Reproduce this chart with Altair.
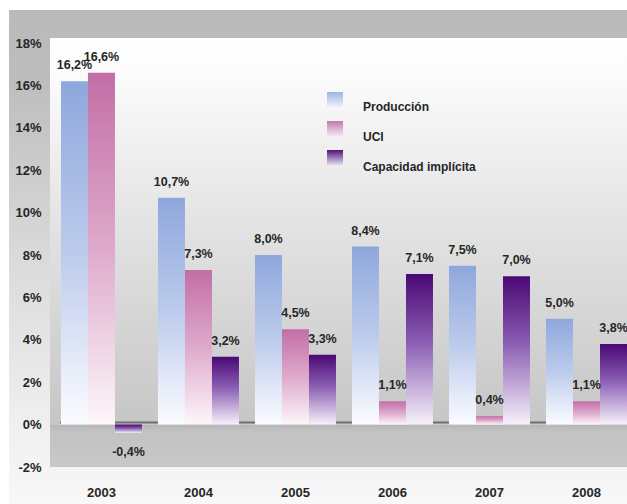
import altair as alt
import pandas as pd

years = ["2003", "2004", "2005", "2006", "2007", "2008"]
series = ["Producción", "UCI", "Capacidad implícita"]
produccion = [16.2, 10.7, 8.0, 8.4, 7.5, 5.0]
uci = [16.6, 7.3, 4.5, 1.1, 0.4, 1.1]
capacidad = [-0.4, 3.2, 3.3, 7.1, 7.0, 3.8]
y_ticks = [-2, 0, 2, 4, 6, 8, 10, 12, 14, 16, 18]

rows = []
for name, vals in zip(series, [produccion, uci, capacidad]):
    for yr, v in zip(years, vals):
        rows.append({"year": yr, "series": name, "value": v,
                     "label": f"{v:.1f}".replace(".", ",") + "%"})
df = pd.DataFrame(rows)
one = pd.DataFrame({"k": [0]})

W, H = 577, 429
FONT = "Liberation Sans"
TXT = "#262626"


def grad(stops):
    return alt.Gradient(
        gradient="linear",
        stops=[alt.GradientStop(color=c, offset=o) for o, c in stops],
        x1=0, x2=0, y1=0, y2=1,
    )


bar_grads = {
    "Producción": grad([(0, "#8ea7dc"), (0.5, "#bccbec"), (1, "#fbfcff")]),
    "UCI": grad([(0, "#c36ea6"), (0.5, "#deaacb"), (1, "#fdf6fa")]),
    "Capacidad implícita": grad([(0, "#4a0874"), (0.45, "#8a5db3"), (1, "#f6f1fa")]),
}

yscale = alt.Scale(domain=[-2, 18.24], nice=False, zero=False)
yaxis = alt.Axis(values=y_ticks, labelExpr="datum.value + '%'", title=None,
                 domain=False, ticks=False, grid=False, labelPadding=9,
                 labelFont=FONT, labelFontSize=13, labelFontWeight="bold",
                 labelColor=TXT, zindex=1)
xscale = alt.Scale(paddingInner=0.165, paddingOuter=0.0565, align=1)
xaxis = alt.Axis(title=None, domain=False, ticks=False, labelAngle=0,
                 labelPadding=19, labelFont=FONT, labelFontSize=13,
                 labelFontWeight="bold", labelColor=TXT, zindex=1)
xenc = alt.X("year:N", sort=years, scale=xscale, axis=xaxis)
xoff = alt.XOffset("series:N", sort=series,
                   scale=alt.Scale(domain=series, paddingInner=0, paddingOuter=0))

# Decoration: outer frame, back wall, floor, zero edge
frame = alt.Chart(one).mark_rect(
    color=grad([(0, "#bababa"), (0.14, "#bdbdbd"), (0.5, "#dadada"),
                (0.85, "#f0f0f0"), (1, "#f8f8f8")])
).encode(x=alt.value(-41), x2=alt.value(W), y=alt.value(-28), y2=alt.value(H + 37))

wall = alt.Chart(one).mark_rect(
    color=grad([(0, "#ffffff"), (0.1, "#fbfbfb"), (0.5, "#e2e2e2"), (1, "#c6c6c6")])
).encode(x=alt.value(0), x2=alt.value(W),
         y=alt.Y(datum=18.24, scale=yscale, axis=yaxis), y2=alt.Y2(datum=0))

floor = alt.Chart(one).mark_rect(
    color=grad([(0, "#b6b6b6"), (0.15, "#c2c2c2"), (1, "#c8c8c8")])
).encode(x=alt.value(0), x2=alt.value(W),
         y=alt.Y(datum=0, scale=yscale, axis=yaxis), y2=alt.Y2(datum=-2))

zero_line = alt.Chart(one).mark_rule(color="#6e6e6e", strokeWidth=2, yOffset=-2).encode(
    x=alt.value(10), x2=alt.value(W),
    y=alt.Y(datum=0, scale=yscale, axis=yaxis))

layers = [frame, wall, floor, zero_line]

for name in series:
    layers.append(
        alt.Chart(df).transform_filter(alt.datum.series == name)
        .mark_bar(color=bar_grads[name])
        .encode(x=xenc, xOffset=xoff,
                y=alt.Y("value:Q", scale=yscale, axis=yaxis))
    )

text_base = dict(font=FONT, fontSize=12.5, fontWeight="bold", color=TXT)
pos_text = alt.Chart(df).transform_filter(alt.datum.value >= 0).mark_text(
    baseline="bottom", dy=-9, **text_base
).encode(x=xenc, xOffset=xoff, y=alt.Y("value:Q", scale=yscale, axis=yaxis),
         text="label:N")
neg_text = alt.Chart(df).transform_filter(alt.datum.value < 0).mark_text(
    baseline="top", dy=13, **text_base
).encode(x=xenc, xOffset=xoff, y=alt.Y("value:Q", scale=yscale, axis=yaxis),
         text="label:N")
layers += [pos_text, neg_text]

# Custom legend
legend_grads = {
    "Producción": grad([(0, "#9fb3e2"), (1, "#eef1fb")]),
    "UCI": grad([(0, "#c37aac"), (1, "#f5e4ef")]),
    "Capacidad implícita": grad([(0, "#4e1478"), (1, "#e6dcf0")]),
}
for i, name in enumerate(series):
    layers.append(
        alt.Chart(one).mark_rect(color=legend_grads[name]).encode(
            x=alt.value(277), x2=alt.value(293),
            y=alt.value(54 + 29 * i), y2=alt.value(69 + 29 * i))
    )
    layers.append(
        alt.Chart(one).mark_text(align="left", baseline="middle", font=FONT,
                                 fontSize=12, fontWeight="bold", color=TXT).encode(
            x=alt.value(313), y=alt.value(69 + 30 * i), text=alt.value(name))
    )

chart = alt.layer(*layers).properties(
    width=W, height=H,
    autosize=alt.AutoSizeParams(type="none"),
    padding={"left": 50, "top": 38, "right": 0, "bottom": 37},
).configure_view(stroke=None).configure(background="white")

chart.save("out.html", embed_options={"renderer": "svg", "actions": False})
